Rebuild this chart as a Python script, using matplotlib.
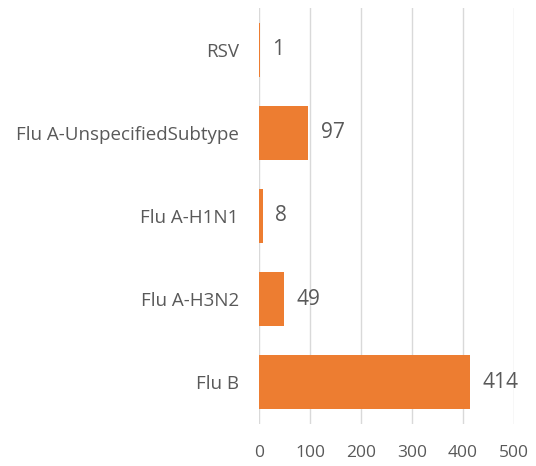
import numpy as np
import matplotlib.pyplot as plt

plt.rcParams['font.family'] = ['Open Sans', 'DejaVu Sans']

categories = ["Flu B", "Flu A-H3N2", "Flu A-H1N1", "Flu A-UnspecifiedSubtype", "RSV"]
counts = [414, 49, 8, 97, 1]
bar_color = "#ED7D31"
text_color = "#595959"

fig = plt.figure(figsize=(5.36, 4.66), dpi=100)
ax = fig.add_axes([259 / 536, 1 - 424 / 466, (514 - 259) / 536, (424 - 8) / 466])

y = np.arange(len(categories))
bars = ax.barh(y, counts, height=0.65, color=bar_color, zorder=2)

for yi, v in zip(y, counts):
    ax.text(v + 24, yi, str(v), va='center', ha='left', fontsize=15, color=text_color)

ax.set_xlim(0, 500)
ax.set_ylim(-0.5, len(categories) - 0.5)
ax.set_xticks(range(0, 501, 100))
ax.set_yticks(y)
ax.set_yticklabels(categories)
ax.grid(axis='x', color='#D9D9D9', linewidth=1, zorder=0)
for s in ax.spines.values():
    s.set_visible(False)
ax.tick_params(axis='both', length=0, colors=text_color)
ax.tick_params(axis='x', pad=15, labelsize=12.5)
ax.tick_params(axis='y', pad=14.5, labelsize=13.5)

fig.savefig("out.png", dpi=100)
